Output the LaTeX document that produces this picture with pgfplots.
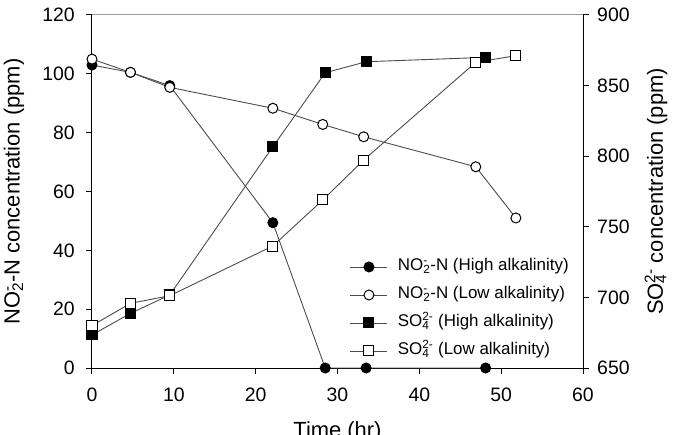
\documentclass[border=0pt]{standalone}
\usepackage{fontspec}
\setmainfont{Liberation Sans}
\usepackage{pgfplots}
\pgfplotsset{compat=1.18}

% stacked superscript/subscript pair, e.g. NO_2^- and SO_4^{2-}
\newcommand{\supsub}[2]{\begingroup\sbox0{\textsuperscript{#1}}\sbox2{\textsubscript{#2}}%
  \rlap{\usebox0}\usebox2\ifdim\wd0>\wd2\hspace{\dimexpr\wd0-\wd2\relax}\fi\endgroup}
\newcommand{\ticktext}{\hbox{\fontsize{19.5}{23}\selectfont\pgfmathprintnumber{\tick}}}

\pgfplotsset{
  every tick label/.append style={inner sep=0pt},
  every axis label/.append style={font=\fontsize{22}{26}\selectfont, inner sep=0pt},
  common/.style={
    scale only axis, width=491bp, height=353bp,
    xmin=0, xmax=60,
    tick align=outside, major tick length=6bp,
    axis line style={-, black, line width=1bp},
    tick style={black, line width=1bp},
    /pgf/number format/assume math mode=true,
    xticklabel={\ticktext}, yticklabel={\ticktext},
  },
  ln/.style={color=black!70, line width=0.9bp},
  mk/.style={mark options={draw=black, line width=1bp, fill=#1, solid}},
}

\begin{document}
\begin{tikzpicture}
\path[use as bounding box] (-92bp,-67bp) rectangle (600bp,368bp);

% left axis: nitrite nitrogen
\begin{axis}[common,
  axis x line*=bottom, axis y line*=left,
  ymin=0, ymax=120, ytick={0,20,...,120},
  xtick={0,10,...,60},
  xticklabel style={anchor=north, yshift=-14bp},
  yticklabel style={anchor=east, xshift=-11bp},
  xlabel={Time (hr)},
  xlabel style={anchor=north, at={(axis description cs:0.5,-0.150)}},
  ylabel={NO\supsub{-}{2}-N concentration (ppm)},
  ylabel style={anchor=center, at={(axis description cs:-0.1589,0.5)}},
]
\draw[black!40, line width=1bp] (rel axis cs:0,1) -- (rel axis cs:1,1);
\addplot[ln, mark=*, mark size=5bp, mk=black] coordinates {
  (0,103) (4.7,100.5) (9.5,96) (22.1,49.4) (28.5,0) (33.5,0) (48.1,0)};
\addplot[ln, mark=*, mark size=5bp, mk=white] coordinates {
  (0,105) (4.7,100.5) (9.5,95.4) (22.1,88.3) (28.2,82.8) (33.2,78.6) (46.9,68.4) (51.8,51)};
\end{axis}

% right axis: sulfate
\begin{axis}[common,
  axis x line=none, axis y line*=right,
  ymin=650, ymax=900, ytick={650,700,...,900},
  yticklabel style={anchor=west, xshift=8bp},
  ylabel={SO\supsub{2-}{4} concentration (ppm)},
  ylabel style={anchor=center, at={(axis description cs:1.1487,0.5)}},
  legend style={draw=none, fill=none, inner sep=0pt, outer sep=0pt,
    at={(rel axis cs:0.5255,0.306)}, anchor=north west,
    row sep=14bp,
    font=\fontsize{17}{20}\selectfont,
    nodes={inner sep=0pt, text height=11bp, text depth=3bp}},
  legend cell align=left,
  legend image code/.code={\draw[mark repeat=2, mark phase=2]
    plot coordinates {(0bp,0bp) (18.5bp,0bp) (37bp,0bp)};},
]
\addlegendimage{ln, mark=*, mark size=5bp, mk=black}
\addlegendentry{\hspace{10bp}NO\supsub{-}{2}-N (High alkalinity)}
\addlegendimage{ln, mark=*, mark size=5bp, mk=white}
\addlegendentry{\hspace{10bp}NO\supsub{-}{2}-N (Low alkalinity)}
\addplot[ln, mark=square*, mark size=5bp, mk=black] coordinates {
  (0,673.4) (4.7,688.7) (9.5,701.7) (22.1,806.7) (28.5,859.1) (33.5,866.9) (48.1,870)};
\addlegendentry{\hspace{10bp}SO\supsub{2-}{4} (High alkalinity)}
\addplot[ln, mark=square*, mark size=5bp, mk=white] coordinates {
  (0,680) (4.7,695.8) (9.5,701.2) (22.1,736.4) (28.2,769) (33.2,797.3) (46.9,866.5) (51.8,871.2)};
\addlegendentry{\hspace{10bp}SO\supsub{2-}{4} (Low alkalinity)}
\end{axis}
\end{tikzpicture}
\end{document}
